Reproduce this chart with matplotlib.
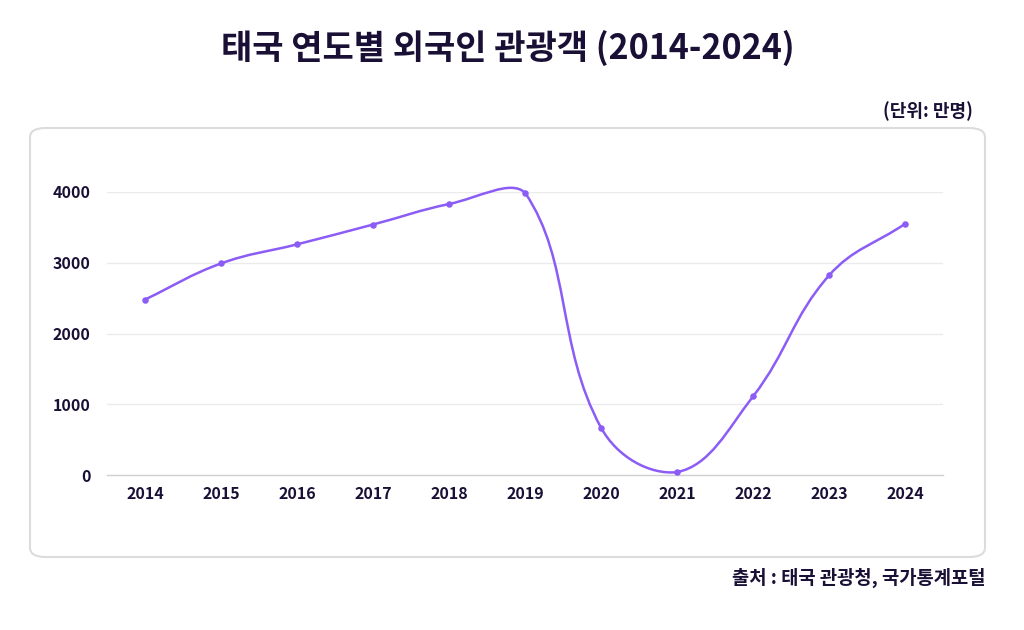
import numpy as np
import matplotlib
matplotlib.use("Agg")
import matplotlib.pyplot as plt
from matplotlib.patches import FancyBboxPatch
from matplotlib.path import Path
from matplotlib.patches import PathPatch

plt.rcParams['font.family'] = ['Noto Sans CJK KR', 'DejaVu Sans']

# 데이터 (단위: 만명)
years = ['2014', '2015', '2016', '2017', '2018', '2019', '2020', '2021', '2022', '2023', '2024']
visitors = [2480, 2990, 3260, 3540, 3830, 3990, 670, 40, 1110, 2820, 3550]

title = '태국 연도별 외국인 관광객 (2014-2024)'
unit_text = '(단위: 만명)'
source_text = '출처 : 태국 관광청, 국가통계포털'
y_ticks = [0, 1000, 2000, 3000, 4000]

dark = '#1a1035'
purple = '#8b5cf6'

fig = plt.figure(figsize=(10.24, 6.3), dpi=100)

# 둥근 테두리 박스
box = FancyBboxPatch((30 / 1024, (630 - 557) / 630), (985 - 30) / 1024, (557 - 128) / 630,
                     boxstyle="round,pad=0,rounding_size=0.015", transform=fig.transFigure,
                     facecolor='white', edgecolor='#dcdcdc', linewidth=1.5, zorder=-5)
fig.patches.append(box)

ax = fig.add_axes([107 / 1024, (630 - 475) / 630, 836 / 1024, 283 / 630])
ax.set_zorder(2)
ax.patch.set_visible(False)
x = np.arange(len(years))
ax.set_xlim(-0.5, len(years) - 0.5)
ax.set_ylim(0, 4000)
fig.canvas.draw()


# Chart.js 스타일 스플라인 (tension 0.4), 픽셀 공간에서 계산 + 영역 안으로 제어점 제한
def spline_path(xs, ys, tension=0.4, top_pad=13):
    pts = ax.transData.transform(np.column_stack([xs, ys]))
    bb = ax.bbox
    n = len(pts)
    ctrl_prev = pts.copy()
    ctrl_next = pts.copy()
    for i in range(n):
        p0 = pts[max(i - 1, 0)]
        p1 = pts[i]
        p2 = pts[min(i + 1, n - 1)]
        d01 = np.hypot(*(p1 - p0))
        d12 = np.hypot(*(p2 - p1))
        tot = d01 + d12
        s01 = d01 / tot if tot else 0
        s12 = d12 / tot if tot else 0
        ctrl_prev[i] = p1 - tension * s01 * (p2 - p0)
        ctrl_next[i] = p1 + tension * s12 * (p2 - p0)
    for c in (ctrl_prev, ctrl_next):
        c[:, 0] = np.clip(c[:, 0], bb.x0, bb.x1)
        c[:, 1] = np.clip(c[:, 1], bb.y0, bb.y1 + top_pad)
    verts = [pts[0]]
    codes = [Path.MOVETO]
    for i in range(n - 1):
        verts += [ctrl_next[i], ctrl_prev[i + 1], pts[i + 1]]
        codes += [Path.CURVE4] * 3
    verts = ax.transData.inverted().transform(np.array(verts))
    return Path(verts, codes)


line = PathPatch(spline_path(x, visitors), facecolor='none', edgecolor=purple,
                 linewidth=1.8, clip_on=False, zorder=3, capstyle='round')
ax.add_patch(line)
ax.scatter(x, visitors, s=22, color=purple, zorder=4, clip_on=False, linewidths=0)

ax.set_xticks(x)
ax.set_xticklabels(years, fontsize=11.5, fontweight='bold', color=dark)
ax.set_yticks(y_ticks)
ax.set_yticklabels([str(v) for v in y_ticks], fontsize=11.5, fontweight='bold', color=dark)
ax.tick_params(length=0, pad=8)
ax.tick_params(axis='y', pad=12)
for v in y_ticks[1:]:
    ax.axhline(v, color='#ebebeb', linewidth=1, zorder=1)
for s in ['top', 'right', 'left']:
    ax.spines[s].set_visible(False)
ax.spines['bottom'].set_color('#cfcfcf')
ax.spines['bottom'].set_linewidth(1)

fig.text(508 / 1024, 1 - 48 / 630, title, ha='center', va='center',
         fontsize=24.5, fontweight='bold', color=dark)
fig.text(973 / 1024, 1 - 111 / 630, unit_text, ha='right', va='center',
         fontsize=13, fontweight='bold', color=dark)
fig.text(985 / 1024, 1 - 578 / 630, source_text, ha='right', va='center',
         fontsize=13.5, fontweight='bold', color=dark)

fig.savefig('out.png', dpi=100, facecolor='white')
